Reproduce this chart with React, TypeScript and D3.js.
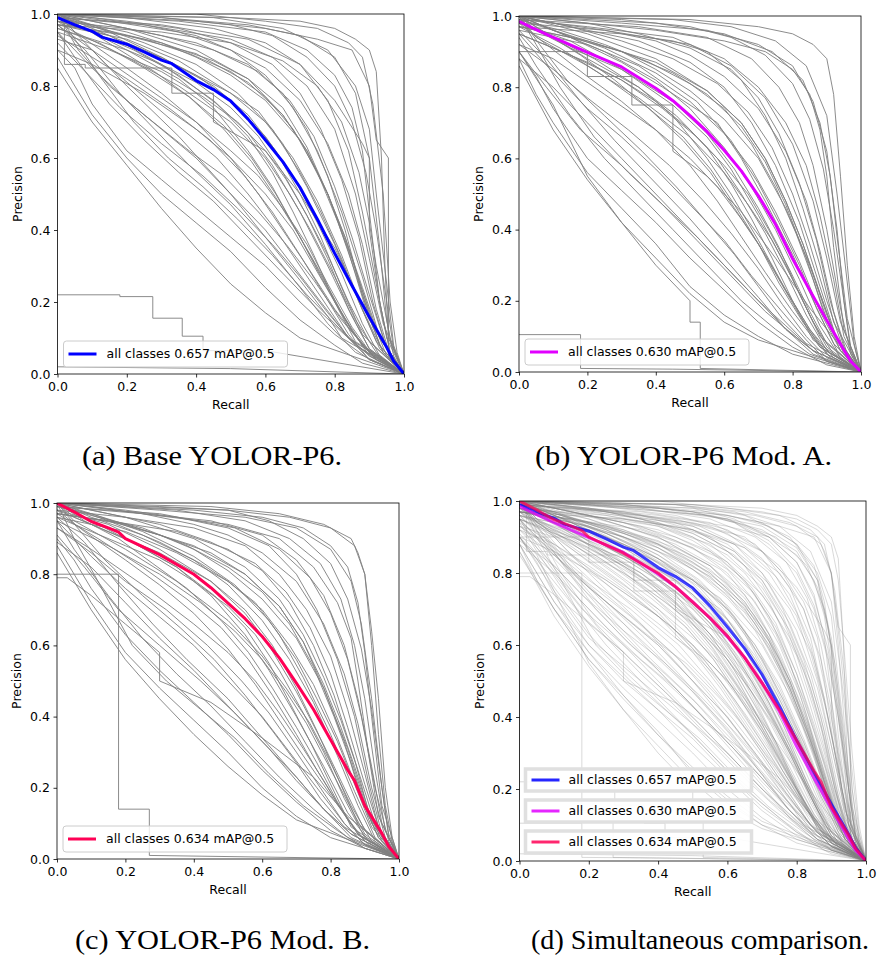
import React, { useEffect, useRef } from "react";
import * as d3 from "d3";

// each class curve: flat list of recall, precision pairs
const classesA: number[][] = [
  [0, 1, 0.4, 1, 0.6, 0.98, 0.75, 0.96, 0.84, 0.92, 0.88, 0.88, 0.91, 0.75, 0.94, 0.5, 0.96, 0.2, 0.98, 0.06, 1, 0],
  [0, 1, 0.3, 0.99, 0.55, 0.97, 0.7, 0.94, 0.8, 0.88, 0.86, 0.78, 0.9, 0.6, 0.93, 0.35, 0.95, 0.15, 0.97, 0.05, 1, 0],
  [0, 1, 0.2, 0.99, 0.45, 0.96, 0.6, 0.92, 0.7, 0.86, 0.78, 0.76, 0.84, 0.62, 0.88, 0.45, 0.92, 0.25, 0.95, 0.1, 1, 0],
  [0, 0.99, 0.25, 0.97, 0.5, 0.93, 0.62, 0.88, 0.72, 0.8, 0.8, 0.68, 0.86, 0.5, 0.9, 0.32, 0.94, 0.14, 1, 0],
  [0, 1, 0.35, 0.98, 0.6, 0.95, 0.72, 0.9, 0.8, 0.83, 0.85, 0.74, 0.88, 0.62, 0.9, 0.45, 0.93, 0.2, 0.96, 0.06, 1, 0],
  [0, 1, 0.5, 0.99, 0.7, 0.98, 0.8, 0.96, 0.86, 0.93, 0.9, 0.9, 0.92, 0.84, 0.935, 0.6, 0.945, 0.3, 0.955, 0.1, 1, 0],
  [0, 1, 0.4, 0.98, 0.6, 0.96, 0.75, 0.93, 0.85, 0.9, 0.9, 0.8, 0.92, 0.65, 0.955, 0.6, 0.955, 0.05, 1, 0],
  [0, 0.98, 0.2, 0.96, 0.4, 0.92, 0.55, 0.86, 0.65, 0.78, 0.72, 0.68, 0.78, 0.55, 0.83, 0.4, 0.88, 0.22, 0.93, 0.08, 1, 0],
  [0, 1, 0.15, 0.98, 0.35, 0.95, 0.5, 0.9, 0.6, 0.83, 0.68, 0.74, 0.75, 0.62, 0.82, 0.45, 0.88, 0.27, 0.93, 0.1, 1, 0],
  [0, 0.97, 0.3, 0.95, 0.5, 0.92, 0.65, 0.87, 0.75, 0.8, 0.82, 0.7, 0.87, 0.56, 0.9, 0.42, 0.92, 0.3, 0.96, 0.1, 1, 0],
  [0, 1, 0.45, 0.99, 0.65, 0.96, 0.78, 0.9, 0.86, 0.8, 0.9, 0.68, 0.92, 0.5, 0.95, 0.25, 0.97, 0.08, 1, 0],
  [0, 0.99, 0.3, 0.97, 0.55, 0.93, 0.7, 0.86, 0.8, 0.76, 0.88, 0.64, 0.9, 0.6, 0.9, 0.4, 0.93, 0.2, 0.96, 0.06, 1, 0],
  [0, 1, 0.1, 0.96, 0.25, 0.9, 0.4, 0.83, 0.5, 0.76, 0.6, 0.66, 0.68, 0.55, 0.75, 0.42, 0.82, 0.28, 0.88, 0.14, 0.93, 0.05, 1, 0],
  [0, 0.98, 0.15, 0.94, 0.3, 0.86, 0.45, 0.76, 0.55, 0.67, 0.62, 0.58, 0.7, 0.45, 0.78, 0.3, 0.85, 0.16, 0.9, 0.07, 1, 0],
  [0, 1, 0.1, 0.95, 0.2, 0.9, 0.35, 0.82, 0.45, 0.74, 0.55, 0.62, 0.62, 0.52, 0.7, 0.38, 0.78, 0.24, 0.85, 0.12, 0.92, 0.04, 1, 0],
  [0, 0.97, 0.2, 0.93, 0.35, 0.87, 0.5, 0.78, 0.6, 0.7, 0.68, 0.6, 0.75, 0.48, 0.82, 0.33, 0.88, 0.18, 0.94, 0.06, 1, 0],
  [0, 1, 0.05, 0.95, 0.2, 0.88, 0.35, 0.8, 0.5, 0.7, 0.6, 0.6, 0.67, 0.5, 0.73, 0.4, 0.8, 0.27, 0.86, 0.15, 0.92, 0.06, 1, 0],
  [0, 0.95, 0.15, 0.9, 0.3, 0.84, 0.42, 0.77, 0.52, 0.7, 0.6, 0.62, 0.66, 0.54, 0.72, 0.44, 0.78, 0.33, 0.84, 0.2, 0.9, 0.09, 1, 0],
  [0, 1, 0.1, 0.97, 0.25, 0.92, 0.4, 0.86, 0.52, 0.78, 0.62, 0.68, 0.7, 0.56, 0.76, 0.45, 0.82, 0.32, 0.87, 0.2, 0.92, 0.09, 1, 0],
  [0, 0.96, 0.12, 0.92, 0.25, 0.85, 0.38, 0.77, 0.48, 0.69, 0.56, 0.6, 0.63, 0.5, 0.7, 0.38, 0.76, 0.27, 0.83, 0.15, 0.9, 0.05, 1, 0],
  [0, 1, 0.2, 0.96, 0.4, 0.9, 0.55, 0.82, 0.65, 0.72, 0.72, 0.62, 0.78, 0.5, 0.83, 0.38, 0.88, 0.24, 0.93, 0.1, 1, 0],
  [0, 0.93, 0.1, 0.9, 0.25, 0.8, 0.4, 0.7, 0.5, 0.62, 0.58, 0.55, 0.65, 0.46, 0.72, 0.36, 0.78, 0.25, 0.85, 0.13, 0.91, 0.05, 1, 0],
  [0, 1, 0.15, 0.95, 0.3, 0.88, 0.42, 0.82, 0.5, 0.78, 0.58, 0.73, 0.65, 0.64, 0.72, 0.52, 0.8, 0.36, 0.87, 0.2, 0.93, 0.07, 1, 0],
  [0, 0.98, 0.08, 0.93, 0.2, 0.85, 0.3, 0.78, 0.4, 0.7, 0.5, 0.6, 0.58, 0.5, 0.65, 0.4, 0.72, 0.3, 0.8, 0.18, 0.88, 0.08, 1, 0],
  [0, 0.95, 0.05, 0.88, 0.15, 0.75, 0.25, 0.65, 0.35, 0.56, 0.45, 0.48, 0.55, 0.38, 0.65, 0.28, 0.75, 0.18, 0.85, 0.09, 0.92, 0.04, 1, 0],
  [0, 0.9, 0.05, 0.85, 0.1, 0.75, 0.2, 0.62, 0.3, 0.54, 0.4, 0.46, 0.5, 0.38, 0.6, 0.3, 0.7, 0.2, 0.8, 0.11, 0.9, 0.04, 1, 0],
  [0, 0.97, 0.08, 0.9, 0.18, 0.78, 0.28, 0.68, 0.38, 0.58, 0.5, 0.47, 0.6, 0.36, 0.7, 0.24, 0.78, 0.14, 0.86, 0.06, 1, 0],
  [0, 1, 0.05, 0.93, 0.12, 0.83, 0.22, 0.7, 0.32, 0.6, 0.42, 0.52, 0.52, 0.43, 0.62, 0.33, 0.72, 0.22, 0.82, 0.12, 0.9, 0.05, 1, 0],
  [0, 0.88, 0.05, 0.8, 0.1, 0.72, 0.2, 0.6, 0.3, 0.5, 0.4, 0.42, 0.5, 0.34, 0.6, 0.24, 0.7, 0.15, 0.8, 0.08, 0.88, 0.03, 1, 0],
  [0, 0.95, 0.1, 0.85, 0.2, 0.76, 0.3, 0.68, 0.4, 0.6, 0.5, 0.5, 0.6, 0.4, 0.68, 0.3, 0.76, 0.2, 0.84, 0.1, 0.9, 0.04, 1, 0],
  [0, 1, 0.06, 0.9, 0.15, 0.8, 0.25, 0.72, 0.38, 0.62, 0.48, 0.55, 0.58, 0.45, 0.66, 0.36, 0.74, 0.26, 0.82, 0.15, 0.9, 0.06, 1, 0],
  [0, 0.22, 0.18, 0.22, 0.18, 0.215, 0.275, 0.215, 0.275, 0.155, 0.36, 0.155, 0.36, 0.105, 0.42, 0.105, 0.42, 0.065, 0.6, 0.065, 1, 0],
  [0, 1, 0.02, 1, 0.02, 0.86, 0.08, 0.86, 0.08, 0.85, 0.33, 0.85, 0.33, 0.78, 0.45, 0.78, 0.45, 0.7, 0.6, 0.62, 0.7, 0.5, 0.8, 0.35, 0.9, 0.15, 1, 0],
  [0, 0.02, 0.5, 0.015, 1, 0],
  [0, 0.99, 0.1, 0.97, 0.2, 0.95, 0.3, 0.92, 0.4, 0.88, 0.5, 0.83, 0.6, 0.76, 0.7, 0.65, 0.78, 0.5, 0.85, 0.32, 0.9, 0.17, 0.95, 0.05, 1, 0],
  [0, 1, 0.1, 0.99, 0.25, 0.97, 0.4, 0.94, 0.5, 0.9, 0.6, 0.85, 0.7, 0.76, 0.78, 0.64, 0.84, 0.5, 0.88, 0.36, 0.92, 0.18, 0.96, 0.05, 1, 0],
  [0, 0.96, 0.1, 0.93, 0.2, 0.9, 0.3, 0.86, 0.4, 0.81, 0.5, 0.74, 0.58, 0.66, 0.65, 0.56, 0.72, 0.44, 0.78, 0.32, 0.84, 0.18, 0.9, 0.07, 1, 0],
  [0, 1, 0.05, 0.97, 0.15, 0.93, 0.3, 0.88, 0.45, 0.8, 0.55, 0.72, 0.63, 0.62, 0.7, 0.5, 0.76, 0.38, 0.82, 0.24, 0.88, 0.11, 1, 0],
  [0, 0.94, 0.1, 0.88, 0.2, 0.82, 0.32, 0.74, 0.44, 0.65, 0.54, 0.55, 0.62, 0.45, 0.7, 0.33, 0.77, 0.22, 0.84, 0.11, 0.9, 0.04, 1, 0],
  [0, 1, 0.2, 0.98, 0.35, 0.96, 0.5, 0.92, 0.62, 0.86, 0.7, 0.78, 0.76, 0.68, 0.82, 0.54, 0.87, 0.38, 0.91, 0.2, 0.95, 0.07, 1, 0],
  [0, 0.97, 0.15, 0.95, 0.3, 0.92, 0.45, 0.87, 0.55, 0.82, 0.65, 0.74, 0.72, 0.63, 0.78, 0.5, 0.84, 0.34, 0.89, 0.18, 0.94, 0.06, 1, 0],
  [0, 1, 0.08, 0.96, 0.18, 0.9, 0.28, 0.84, 0.38, 0.77, 0.48, 0.68, 0.56, 0.59, 0.63, 0.49, 0.7, 0.38, 0.76, 0.28, 0.82, 0.17, 0.88, 0.08, 1, 0],
  [0, 0.92, 0.08, 0.84, 0.18, 0.74, 0.3, 0.64, 0.42, 0.55, 0.52, 0.46, 0.62, 0.36, 0.7, 0.27, 0.78, 0.17, 0.86, 0.08, 1, 0],
  [0, 1, 0.3, 0.99, 0.5, 0.97, 0.62, 0.94, 0.72, 0.88, 0.8, 0.8, 0.85, 0.7, 0.89, 0.56, 0.92, 0.4, 0.95, 0.2, 0.97, 0.07, 1, 0],
  [0, 0.98, 0.1, 0.95, 0.22, 0.9, 0.35, 0.83, 0.46, 0.75, 0.55, 0.66, 0.62, 0.56, 0.68, 0.45, 0.74, 0.33, 0.8, 0.2, 0.86, 0.09, 1, 0],
  [0, 0.99, 0.12, 0.96, 0.25, 0.93, 0.38, 0.89, 0.5, 0.84, 0.6, 0.77, 0.68, 0.68, 0.75, 0.56, 0.81, 0.42, 0.86, 0.28, 0.91, 0.13, 1, 0],
  [0, 1, 0.06, 0.94, 0.14, 0.86, 0.25, 0.77, 0.36, 0.68, 0.46, 0.6, 0.55, 0.5, 0.63, 0.4, 0.7, 0.3, 0.77, 0.2, 0.84, 0.1, 1, 0],
  [0, 0.97, 0.2, 0.94, 0.4, 0.89, 0.55, 0.81, 0.65, 0.72, 0.72, 0.62, 0.78, 0.5, 0.83, 0.38, 0.87, 0.26, 0.92, 0.12, 1, 0],
  [0, 0.9, 0.1, 0.86, 0.25, 0.78, 0.4, 0.68, 0.5, 0.6, 0.6, 0.5, 0.68, 0.4, 0.74, 0.3, 0.8, 0.2, 0.85, 0.12, 0.9, 0.06, 1, 0],
  [0, 1, 0.15, 0.97, 0.3, 0.94, 0.45, 0.9, 0.58, 0.84, 0.67, 0.76, 0.74, 0.66, 0.8, 0.52, 0.85, 0.38, 0.9, 0.22, 0.95, 0.07, 1, 0],
  [0, 0.85, 0.1, 0.7, 0.2, 0.58, 0.3, 0.46, 0.4, 0.35, 0.5, 0.25, 0.6, 0.17, 0.7, 0.1, 1, 0],
  [0, 0.97, 0.1, 0.9, 0.2, 0.8, 0.35, 0.66, 0.5, 0.5, 0.6, 0.38, 0.7, 0.26, 0.78, 0.16, 0.82, 0.1, 1, 0],
];

const classesB: number[][] = [
  [0, 1, 0.5, 0.99, 0.7, 0.97, 0.8, 0.95, 0.86, 0.92, 0.9, 0.88, 0.92, 0.78, 0.94, 0.55, 0.96, 0.3, 0.98, 0.1, 1, 0],
  [0, 1, 0.3, 0.98, 0.55, 0.96, 0.7, 0.92, 0.8, 0.86, 0.86, 0.76, 0.9, 0.62, 0.93, 0.4, 0.95, 0.2, 0.97, 0.06, 1, 0],
  [0, 0.99, 0.2, 0.97, 0.45, 0.94, 0.6, 0.88, 0.7, 0.8, 0.78, 0.7, 0.84, 0.58, 0.88, 0.44, 0.92, 0.26, 0.95, 0.1, 1, 0],
  [0, 1, 0.4, 0.98, 0.6, 0.95, 0.74, 0.9, 0.83, 0.82, 0.88, 0.7, 0.91, 0.55, 0.93, 0.38, 0.96, 0.15, 1, 0],
  [0, 0.98, 0.25, 0.96, 0.5, 0.92, 0.62, 0.86, 0.72, 0.77, 0.8, 0.64, 0.86, 0.48, 0.9, 0.32, 0.94, 0.14, 1, 0],
  [0, 1, 0.2, 0.98, 0.4, 0.96, 0.6, 0.93, 0.72, 0.9, 0.8, 0.85, 0.85, 0.78, 0.88, 0.68, 0.9, 0.55, 0.92, 0.35, 0.95, 0.12, 1, 0],
  [0, 0.97, 0.3, 0.95, 0.45, 0.93, 0.55, 0.9, 0.65, 0.82, 0.72, 0.72, 0.78, 0.6, 0.83, 0.46, 0.88, 0.3, 0.92, 0.14, 1, 0],
  [0, 1, 0.15, 0.97, 0.35, 0.93, 0.5, 0.87, 0.6, 0.8, 0.68, 0.7, 0.75, 0.58, 0.82, 0.42, 0.88, 0.24, 0.93, 0.09, 1, 0],
  [0, 1, 0.45, 0.99, 0.62, 0.97, 0.75, 0.93, 0.84, 0.86, 0.9, 0.72, 0.93, 0.5, 0.96, 0.25, 0.98, 0.08, 1, 0],
  [0, 0.99, 0.35, 0.97, 0.55, 0.94, 0.68, 0.88, 0.76, 0.8, 0.82, 0.7, 0.86, 0.58, 0.9, 0.4, 0.94, 0.18, 0.97, 0.05, 1, 0],
  [0, 1, 0.1, 0.96, 0.25, 0.9, 0.4, 0.82, 0.5, 0.74, 0.6, 0.63, 0.68, 0.52, 0.75, 0.4, 0.82, 0.26, 0.88, 0.13, 0.94, 0.04, 1, 0],
  [0, 0.98, 0.15, 0.93, 0.3, 0.85, 0.45, 0.75, 0.55, 0.66, 0.62, 0.57, 0.7, 0.44, 0.78, 0.3, 0.85, 0.16, 0.9, 0.07, 1, 0],
  [0, 1, 0.1, 0.94, 0.2, 0.88, 0.35, 0.8, 0.45, 0.72, 0.55, 0.6, 0.62, 0.5, 0.7, 0.37, 0.78, 0.23, 0.85, 0.12, 0.92, 0.04, 1, 0],
  [0, 0.96, 0.2, 0.92, 0.35, 0.86, 0.5, 0.76, 0.6, 0.67, 0.68, 0.57, 0.75, 0.45, 0.82, 0.31, 0.88, 0.17, 0.94, 0.06, 1, 0],
  [0, 1, 0.05, 0.94, 0.2, 0.86, 0.35, 0.77, 0.5, 0.66, 0.6, 0.56, 0.67, 0.47, 0.74, 0.37, 0.8, 0.26, 0.86, 0.14, 0.92, 0.05, 1, 0],
  [0, 0.95, 0.15, 0.89, 0.3, 0.82, 0.42, 0.74, 0.52, 0.66, 0.6, 0.58, 0.67, 0.5, 0.73, 0.4, 0.79, 0.29, 0.85, 0.17, 0.9, 0.08, 1, 0],
  [0, 1, 0.1, 0.96, 0.25, 0.91, 0.4, 0.84, 0.52, 0.76, 0.62, 0.65, 0.7, 0.53, 0.76, 0.42, 0.82, 0.3, 0.87, 0.18, 0.92, 0.08, 1, 0],
  [0, 0.97, 0.12, 0.91, 0.25, 0.83, 0.38, 0.74, 0.48, 0.66, 0.56, 0.57, 0.63, 0.47, 0.7, 0.36, 0.76, 0.25, 0.83, 0.14, 0.9, 0.05, 1, 0],
  [0, 1, 0.2, 0.95, 0.4, 0.88, 0.55, 0.79, 0.65, 0.7, 0.72, 0.6, 0.78, 0.48, 0.83, 0.36, 0.88, 0.22, 0.93, 0.09, 1, 0],
  [0, 0.92, 0.1, 0.88, 0.25, 0.78, 0.4, 0.68, 0.5, 0.6, 0.58, 0.52, 0.65, 0.43, 0.72, 0.33, 0.78, 0.23, 0.85, 0.12, 0.91, 0.04, 1, 0],
  [0, 0.98, 0.08, 0.92, 0.2, 0.83, 0.3, 0.76, 0.4, 0.68, 0.5, 0.58, 0.58, 0.48, 0.65, 0.38, 0.72, 0.28, 0.8, 0.17, 0.88, 0.07, 1, 0],
  [0, 1, 0.15, 0.94, 0.3, 0.87, 0.42, 0.8, 0.5, 0.75, 0.58, 0.7, 0.65, 0.6, 0.72, 0.48, 0.8, 0.33, 0.87, 0.18, 0.93, 0.06, 1, 0],
  [0, 0.94, 0.05, 0.86, 0.15, 0.72, 0.25, 0.6, 0.35, 0.5, 0.45, 0.4, 0.55, 0.3, 0.65, 0.2, 0.75, 0.12, 0.85, 0.05, 1, 0],
  [0, 0.9, 0.05, 0.83, 0.1, 0.74, 0.2, 0.6, 0.3, 0.51, 0.4, 0.42, 0.5, 0.32, 0.6, 0.23, 0.7, 0.14, 0.8, 0.07, 0.9, 0.02, 1, 0],
  [0, 0.96, 0.08, 0.88, 0.18, 0.76, 0.28, 0.65, 0.38, 0.55, 0.5, 0.43, 0.6, 0.32, 0.7, 0.21, 0.78, 0.12, 0.86, 0.05, 1, 0],
  [0, 1, 0.05, 0.92, 0.12, 0.8, 0.22, 0.66, 0.32, 0.56, 0.42, 0.47, 0.52, 0.37, 0.62, 0.27, 0.72, 0.17, 0.82, 0.09, 0.9, 0.03, 1, 0],
  [0, 0.88, 0.05, 0.78, 0.1, 0.7, 0.2, 0.56, 0.3, 0.46, 0.4, 0.36, 0.5, 0.24, 0.6, 0.16, 0.7, 0.1, 0.8, 0.05, 1, 0],
  [0, 0.95, 0.1, 0.84, 0.2, 0.74, 0.3, 0.66, 0.4, 0.57, 0.5, 0.47, 0.6, 0.37, 0.68, 0.27, 0.76, 0.18, 0.84, 0.09, 0.9, 0.03, 1, 0],
  [0, 0.105, 0.18, 0.105, 0.18, 0.01, 0.45, 0.008, 1, 0],
  [0, 0.9, 0.2, 0.9, 0.2, 0.83, 0.33, 0.83, 0.33, 0.75, 0.45, 0.75, 0.45, 0.62, 0.55, 0.55, 0.65, 0.45, 0.75, 0.32, 0.85, 0.18, 1, 0],
  [0, 0.9, 0.1, 0.75, 0.2, 0.55, 0.3, 0.42, 0.4, 0.3, 0.5, 0.2, 0.5, 0.14, 0.53, 0.14, 0.53, 0.01, 1, 0],
  [0, 0.99, 0.1, 0.96, 0.2, 0.93, 0.3, 0.9, 0.4, 0.85, 0.5, 0.79, 0.6, 0.71, 0.7, 0.6, 0.78, 0.46, 0.85, 0.3, 0.9, 0.16, 0.95, 0.05, 1, 0],
  [0, 1, 0.1, 0.98, 0.25, 0.96, 0.4, 0.93, 0.5, 0.89, 0.6, 0.83, 0.7, 0.74, 0.78, 0.62, 0.84, 0.48, 0.88, 0.34, 0.92, 0.17, 0.96, 0.05, 1, 0],
  [0, 0.95, 0.1, 0.91, 0.2, 0.87, 0.3, 0.82, 0.4, 0.76, 0.5, 0.68, 0.58, 0.6, 0.65, 0.5, 0.72, 0.39, 0.78, 0.28, 0.84, 0.16, 0.9, 0.06, 1, 0],
  [0, 1, 0.05, 0.96, 0.15, 0.91, 0.3, 0.85, 0.45, 0.76, 0.55, 0.67, 0.63, 0.57, 0.7, 0.46, 0.76, 0.35, 0.82, 0.22, 0.88, 0.1, 1, 0],
  [0, 0.92, 0.1, 0.85, 0.2, 0.77, 0.32, 0.68, 0.44, 0.58, 0.54, 0.48, 0.62, 0.39, 0.7, 0.29, 0.77, 0.19, 0.84, 0.1, 0.9, 0.04, 1, 0],
  [0, 1, 0.2, 0.98, 0.35, 0.95, 0.5, 0.91, 0.62, 0.85, 0.7, 0.77, 0.76, 0.67, 0.82, 0.53, 0.87, 0.37, 0.91, 0.2, 0.95, 0.07, 1, 0],
  [0, 0.97, 0.15, 0.94, 0.3, 0.9, 0.45, 0.84, 0.55, 0.78, 0.65, 0.69, 0.72, 0.59, 0.78, 0.47, 0.84, 0.32, 0.89, 0.17, 0.94, 0.06, 1, 0],
  [0, 1, 0.08, 0.95, 0.18, 0.89, 0.28, 0.82, 0.38, 0.74, 0.48, 0.65, 0.56, 0.56, 0.63, 0.46, 0.7, 0.36, 0.76, 0.26, 0.82, 0.16, 0.88, 0.07, 1, 0],
  [0, 0.9, 0.08, 0.8, 0.18, 0.68, 0.3, 0.58, 0.42, 0.47, 0.52, 0.38, 0.62, 0.28, 0.7, 0.2, 0.78, 0.13, 0.86, 0.06, 1, 0],
  [0, 1, 0.3, 0.99, 0.5, 0.97, 0.62, 0.94, 0.72, 0.89, 0.8, 0.81, 0.85, 0.71, 0.89, 0.57, 0.92, 0.4, 0.95, 0.2, 0.97, 0.07, 1, 0],
  [0, 0.98, 0.1, 0.94, 0.22, 0.88, 0.35, 0.8, 0.46, 0.72, 0.55, 0.63, 0.62, 0.53, 0.68, 0.43, 0.74, 0.32, 0.8, 0.2, 0.86, 0.09, 1, 0],
  [0, 0.99, 0.12, 0.96, 0.25, 0.92, 0.38, 0.87, 0.5, 0.81, 0.6, 0.74, 0.68, 0.64, 0.75, 0.52, 0.81, 0.39, 0.86, 0.26, 0.91, 0.12, 1, 0],
  [0, 1, 0.06, 0.92, 0.14, 0.82, 0.25, 0.72, 0.36, 0.62, 0.46, 0.52, 0.55, 0.42, 0.63, 0.33, 0.7, 0.24, 0.77, 0.15, 0.84, 0.08, 1, 0],
  [0, 0.97, 0.2, 0.93, 0.4, 0.87, 0.55, 0.79, 0.65, 0.7, 0.72, 0.6, 0.78, 0.48, 0.83, 0.36, 0.87, 0.25, 0.92, 0.11, 1, 0],
  [0, 0.88, 0.1, 0.8, 0.2, 0.7, 0.3, 0.6, 0.4, 0.5, 0.5, 0.4, 0.6, 0.3, 0.7, 0.2, 0.78, 0.12, 0.86, 0.06, 1, 0],
  [0, 1, 0.15, 0.97, 0.3, 0.93, 0.45, 0.88, 0.58, 0.81, 0.67, 0.73, 0.74, 0.63, 0.8, 0.5, 0.85, 0.36, 0.9, 0.2, 0.95, 0.06, 1, 0],
  [0, 0.86, 0.1, 0.68, 0.2, 0.54, 0.3, 0.42, 0.4, 0.32, 0.5, 0.22, 0.6, 0.14, 0.7, 0.09, 1, 0],
];

const classesC: number[][] = [
  [0, 1, 0.45, 0.99, 0.65, 0.97, 0.78, 0.94, 0.86, 0.9, 0.88, 0.86, 0.9, 0.8, 0.92, 0.6, 0.94, 0.35, 0.96, 0.15, 0.98, 0.05, 1, 0],
  [0, 1, 0.3, 0.98, 0.55, 0.96, 0.7, 0.93, 0.8, 0.87, 0.86, 0.78, 0.89, 0.66, 0.92, 0.45, 0.95, 0.2, 0.97, 0.06, 1, 0],
  [0, 0.99, 0.25, 0.97, 0.45, 0.95, 0.6, 0.91, 0.7, 0.84, 0.78, 0.74, 0.84, 0.6, 0.88, 0.45, 0.92, 0.26, 0.95, 0.1, 1, 0],
  [0, 1, 0.35, 0.98, 0.55, 0.95, 0.68, 0.9, 0.77, 0.83, 0.83, 0.73, 0.87, 0.6, 0.9, 0.45, 0.93, 0.25, 0.96, 0.08, 1, 0],
  [0, 0.98, 0.2, 0.96, 0.4, 0.93, 0.55, 0.88, 0.65, 0.8, 0.73, 0.7, 0.8, 0.57, 0.85, 0.42, 0.9, 0.24, 0.94, 0.09, 1, 0],
  [0, 1, 0.5, 0.98, 0.68, 0.96, 0.8, 0.93, 0.87, 0.88, 0.9, 0.8, 0.92, 0.64, 0.94, 0.45, 0.96, 0.2, 0.98, 0.06, 1, 0],
  [0, 1, 0.25, 0.97, 0.5, 0.94, 0.65, 0.9, 0.75, 0.82, 0.82, 0.72, 0.86, 0.62, 0.88, 0.5, 0.91, 0.3, 0.94, 0.12, 1, 0],
  [0, 0.97, 0.15, 0.95, 0.35, 0.92, 0.5, 0.87, 0.6, 0.81, 0.68, 0.72, 0.75, 0.6, 0.81, 0.46, 0.87, 0.28, 0.92, 0.1, 1, 0],
  [0, 1, 0.4, 0.98, 0.6, 0.96, 0.72, 0.93, 0.8, 0.88, 0.85, 0.82, 0.88, 0.72, 0.9, 0.58, 0.92, 0.4, 0.95, 0.15, 1, 0],
  [0, 0.99, 0.3, 0.97, 0.52, 0.93, 0.65, 0.87, 0.74, 0.79, 0.8, 0.69, 0.85, 0.56, 0.89, 0.4, 0.93, 0.2, 0.97, 0.05, 1, 0],
  [0, 1, 0.1, 0.96, 0.25, 0.91, 0.4, 0.84, 0.5, 0.77, 0.6, 0.67, 0.68, 0.56, 0.75, 0.44, 0.82, 0.29, 0.88, 0.15, 0.93, 0.05, 1, 0],
  [0, 0.98, 0.15, 0.94, 0.3, 0.87, 0.45, 0.78, 0.55, 0.69, 0.62, 0.6, 0.7, 0.47, 0.78, 0.32, 0.85, 0.18, 0.9, 0.08, 1, 0],
  [0, 1, 0.1, 0.95, 0.2, 0.9, 0.35, 0.82, 0.45, 0.74, 0.55, 0.63, 0.62, 0.53, 0.7, 0.4, 0.78, 0.26, 0.85, 0.13, 0.92, 0.04, 1, 0],
  [0, 0.96, 0.2, 0.92, 0.35, 0.86, 0.5, 0.78, 0.6, 0.7, 0.68, 0.6, 0.75, 0.49, 0.82, 0.34, 0.88, 0.19, 0.94, 0.06, 1, 0],
  [0, 1, 0.05, 0.95, 0.2, 0.87, 0.35, 0.78, 0.5, 0.67, 0.6, 0.57, 0.67, 0.48, 0.74, 0.38, 0.8, 0.27, 0.86, 0.15, 0.92, 0.05, 1, 0],
  [0, 0.95, 0.15, 0.88, 0.3, 0.8, 0.42, 0.72, 0.52, 0.64, 0.6, 0.56, 0.67, 0.47, 0.73, 0.38, 0.79, 0.27, 0.85, 0.16, 0.9, 0.07, 1, 0],
  [0, 1, 0.1, 0.97, 0.25, 0.92, 0.4, 0.85, 0.52, 0.77, 0.62, 0.67, 0.7, 0.56, 0.76, 0.45, 0.82, 0.33, 0.87, 0.21, 0.92, 0.09, 1, 0],
  [0, 0.97, 0.12, 0.9, 0.25, 0.82, 0.38, 0.73, 0.48, 0.65, 0.56, 0.56, 0.63, 0.46, 0.7, 0.35, 0.76, 0.25, 0.83, 0.14, 0.9, 0.05, 1, 0],
  [0, 1, 0.2, 0.96, 0.4, 0.9, 0.55, 0.82, 0.65, 0.73, 0.72, 0.63, 0.78, 0.51, 0.83, 0.39, 0.88, 0.25, 0.93, 0.1, 1, 0],
  [0, 0.93, 0.1, 0.87, 0.25, 0.77, 0.4, 0.66, 0.5, 0.58, 0.58, 0.5, 0.65, 0.41, 0.72, 0.31, 0.78, 0.22, 0.85, 0.11, 0.91, 0.04, 1, 0],
  [0, 0.98, 0.08, 0.92, 0.2, 0.84, 0.3, 0.77, 0.4, 0.69, 0.5, 0.59, 0.58, 0.49, 0.65, 0.39, 0.72, 0.29, 0.8, 0.18, 0.88, 0.07, 1, 0],
  [0, 1, 0.15, 0.95, 0.3, 0.89, 0.42, 0.83, 0.5, 0.78, 0.58, 0.72, 0.65, 0.63, 0.72, 0.51, 0.8, 0.35, 0.87, 0.19, 0.93, 0.06, 1, 0],
  [0, 0.95, 0.05, 0.87, 0.15, 0.74, 0.25, 0.62, 0.35, 0.52, 0.45, 0.43, 0.55, 0.33, 0.65, 0.23, 0.75, 0.14, 0.85, 0.06, 1, 0],
  [0, 0.9, 0.05, 0.84, 0.1, 0.76, 0.2, 0.63, 0.3, 0.53, 0.4, 0.44, 0.5, 0.35, 0.6, 0.25, 0.7, 0.16, 0.8, 0.08, 0.9, 0.03, 1, 0],
  [0, 0.96, 0.08, 0.89, 0.18, 0.77, 0.28, 0.66, 0.38, 0.56, 0.5, 0.45, 0.6, 0.34, 0.7, 0.23, 0.78, 0.14, 0.86, 0.06, 1, 0],
  [0, 1, 0.05, 0.9, 0.12, 0.78, 0.22, 0.6, 0.32, 0.5, 0.42, 0.42, 0.52, 0.34, 0.62, 0.24, 0.72, 0.15, 0.82, 0.08, 0.9, 0.03, 1, 0],
  [0, 0.88, 0.05, 0.8, 0.1, 0.72, 0.2, 0.58, 0.3, 0.48, 0.4, 0.39, 0.5, 0.3, 0.6, 0.2, 0.7, 0.12, 0.8, 0.06, 1, 0],
  [0, 0.95, 0.1, 0.85, 0.2, 0.76, 0.3, 0.68, 0.4, 0.6, 0.5, 0.5, 0.6, 0.4, 0.68, 0.3, 0.76, 0.2, 0.84, 0.1, 0.9, 0.04, 1, 0],
  [0, 0.8, 0.18, 0.8, 0.18, 0.14, 0.27, 0.14, 0.27, 0.01, 1, 0],
  [0, 0.79, 0.03, 0.79, 0.1, 0.74, 0.2, 0.66, 0.3, 0.58, 0.3, 0.5, 0.45, 0.44, 0.6, 0.34, 0.75, 0.23, 0.85, 0.12, 1, 0],
  [0, 0.99, 0.1, 0.97, 0.2, 0.94, 0.3, 0.91, 0.4, 0.87, 0.5, 0.81, 0.6, 0.73, 0.7, 0.62, 0.78, 0.48, 0.85, 0.31, 0.9, 0.16, 0.95, 0.05, 1, 0],
  [0, 1, 0.1, 0.99, 0.25, 0.97, 0.4, 0.94, 0.5, 0.91, 0.6, 0.86, 0.7, 0.78, 0.78, 0.66, 0.84, 0.52, 0.88, 0.38, 0.92, 0.2, 0.96, 0.06, 1, 0],
  [0, 0.96, 0.1, 0.92, 0.2, 0.88, 0.3, 0.84, 0.4, 0.78, 0.5, 0.71, 0.58, 0.63, 0.65, 0.53, 0.72, 0.41, 0.78, 0.3, 0.84, 0.17, 0.9, 0.06, 1, 0],
  [0, 1, 0.05, 0.96, 0.15, 0.92, 0.3, 0.86, 0.45, 0.78, 0.55, 0.7, 0.63, 0.6, 0.7, 0.48, 0.76, 0.36, 0.82, 0.23, 0.88, 0.1, 1, 0],
  [0, 0.93, 0.1, 0.86, 0.2, 0.78, 0.32, 0.7, 0.44, 0.6, 0.54, 0.5, 0.62, 0.41, 0.7, 0.3, 0.77, 0.2, 0.84, 0.1, 0.9, 0.04, 1, 0],
  [0, 1, 0.2, 0.98, 0.35, 0.96, 0.5, 0.93, 0.62, 0.88, 0.7, 0.8, 0.76, 0.7, 0.82, 0.56, 0.87, 0.4, 0.91, 0.22, 0.95, 0.07, 1, 0],
  [0, 0.97, 0.15, 0.95, 0.3, 0.91, 0.45, 0.86, 0.55, 0.8, 0.65, 0.71, 0.72, 0.61, 0.78, 0.48, 0.84, 0.33, 0.89, 0.17, 0.94, 0.06, 1, 0],
  [0, 1, 0.08, 0.95, 0.18, 0.9, 0.28, 0.83, 0.38, 0.76, 0.48, 0.67, 0.56, 0.58, 0.63, 0.48, 0.7, 0.37, 0.76, 0.27, 0.82, 0.16, 0.88, 0.07, 1, 0],
  [0, 0.91, 0.08, 0.82, 0.18, 0.7, 0.3, 0.6, 0.42, 0.5, 0.52, 0.41, 0.62, 0.31, 0.7, 0.22, 0.78, 0.14, 0.86, 0.07, 1, 0],
  [0, 1, 0.3, 0.99, 0.5, 0.98, 0.62, 0.95, 0.72, 0.9, 0.8, 0.83, 0.85, 0.73, 0.89, 0.59, 0.92, 0.42, 0.95, 0.2, 0.97, 0.07, 1, 0],
  [0, 0.98, 0.1, 0.94, 0.22, 0.89, 0.35, 0.82, 0.46, 0.74, 0.55, 0.65, 0.62, 0.55, 0.68, 0.44, 0.74, 0.33, 0.8, 0.21, 0.86, 0.09, 1, 0],
  [0, 0.99, 0.12, 0.96, 0.25, 0.93, 0.38, 0.88, 0.5, 0.82, 0.6, 0.75, 0.68, 0.66, 0.75, 0.54, 0.81, 0.4, 0.86, 0.27, 0.91, 0.12, 1, 0],
  [0, 1, 0.06, 0.93, 0.14, 0.84, 0.25, 0.74, 0.36, 0.65, 0.46, 0.56, 0.55, 0.46, 0.63, 0.36, 0.7, 0.27, 0.77, 0.17, 0.84, 0.09, 1, 0],
  [0, 0.97, 0.2, 0.94, 0.4, 0.88, 0.55, 0.8, 0.65, 0.71, 0.72, 0.61, 0.78, 0.49, 0.83, 0.37, 0.87, 0.26, 0.92, 0.11, 1, 0],
  [0, 0.89, 0.1, 0.82, 0.2, 0.72, 0.3, 0.62, 0.4, 0.53, 0.5, 0.43, 0.6, 0.33, 0.7, 0.23, 0.78, 0.14, 0.86, 0.07, 1, 0],
  [0, 1, 0.15, 0.97, 0.3, 0.94, 0.45, 0.89, 0.58, 0.83, 0.67, 0.75, 0.74, 0.65, 0.8, 0.52, 0.85, 0.37, 0.9, 0.21, 0.95, 0.06, 1, 0],
  [0, 0.86, 0.1, 0.7, 0.2, 0.56, 0.3, 0.45, 0.4, 0.35, 0.5, 0.26, 0.6, 0.18, 0.7, 0.11, 1, 0],
];

// mean curves (all classes)
const recallA = [0, 0.05, 0.1, 0.13, 0.2, 0.25, 0.3, 0.33, 0.4, 0.45, 0.5, 0.55, 0.6, 0.65, 0.7, 0.75, 0.8, 0.85, 0.9, 0.95, 0.97, 1];
const precisionA = [0.99, 0.97, 0.952, 0.935, 0.916, 0.895, 0.872, 0.862, 0.815, 0.79, 0.758, 0.708, 0.65, 0.59, 0.518, 0.43, 0.335, 0.245, 0.158, 0.074, 0.036, 0];
const recallB = [0, 0.05, 0.1, 0.2, 0.3, 0.4, 0.45, 0.5, 0.55, 0.6, 0.65, 0.7, 0.75, 0.8, 0.85, 0.9, 0.95, 0.97, 1];
const precisionB = [0.985, 0.962, 0.94, 0.898, 0.857, 0.797, 0.762, 0.72, 0.675, 0.623, 0.565, 0.495, 0.415, 0.318, 0.23, 0.145, 0.062, 0.03, 0];
const recallC = [0, 0.05, 0.1, 0.15, 0.18, 0.2, 0.3, 0.4, 0.45, 0.5, 0.55, 0.6, 0.65, 0.7, 0.75, 0.8, 0.85, 0.87, 0.9, 0.95, 0.97, 1];
const precisionC = [1, 0.975, 0.948, 0.93, 0.918, 0.9, 0.855, 0.8, 0.762, 0.719, 0.675, 0.625, 0.565, 0.494, 0.42, 0.335, 0.25, 0.22, 0.15, 0.072, 0.035, 0];

const legendLabels = ["all classes 0.657 mAP@0.5", "all classes 0.630 mAP@0.5", "all classes 0.634 mAP@0.5"];
const captions = ["(a) Base YOLOR-P6.", "(b) YOLOR-P6 Mod. A.", "(c) YOLOR-P6 Mod. B.", "(d) Simultaneous comparison."];
const tickValues = [0, 0.2, 0.4, 0.6, 0.8, 1.0];

const colors = ["#0000ff", "#e100ff", "#ff0055"];
const font = "DejaVu Sans, sans-serif";

const pairs = (flat: number[]) => {
  const out: [number, number][] = [];
  for (let i = 0; i < flat.length; i += 2) out.push([flat[i], flat[i + 1]]);
  return out;
};

const zipRP = (r: number[], p: number[]) => r.map((v, i) => [v, p[i]] as [number, number]);

export default function App() {
  const ref = useRef<SVGSVGElement>(null);

  useEffect(() => {
    const svg = d3.select(ref.current);
    svg.selectAll("*").remove();

    const mains = [zipRP(recallA, precisionA), zipRP(recallB, precisionB), zipRP(recallC, precisionC)];

    const panels = [
      { id: "a", left: 57.5, right: 404, top: 14, bottom: 374, classes: classesA, mains: [0], light: false },
      { id: "b", left: 519, right: 861, top: 16, bottom: 372, classes: classesB, mains: [1], light: false },
      { id: "c", left: 57, right: 399, top: 503, bottom: 859, classes: classesC, mains: [2], light: false },
      { id: "d", left: 519.5, right: 866, top: 501, bottom: 861, classes: [...classesA, ...classesB, ...classesC], mains: [0, 1, 2], light: true },
    ];

    panels.forEach((pn) => {
      const x = d3.scaleLinear().domain([0, 1]).range([pn.left, pn.right]);
      const y = d3.scaleLinear().domain([0, 1]).range([pn.bottom, pn.top]);
      const line = d3.line<[number, number]>().x((d) => x(d[0])).y((d) => y(d[1]));
      const g = svg.append("g");

      g.append("clipPath").attr("id", "clip-" + pn.id)
        .append("rect")
        .attr("x", pn.left).attr("y", pn.top)
        .attr("width", pn.right - pn.left).attr("height", pn.bottom - pn.top);

      const plot = g.append("g").attr("clip-path", `url(#clip-${pn.id})`);

      plot.selectAll("path.cls")
        .data(pn.classes)
        .join("path")
        .attr("class", "cls")
        .attr("d", (c) => line(pairs(c)))
        .attr("fill", "none")
        .attr("stroke", "#808080")
        .attr("stroke-opacity", pn.light ? 0.3 : 0.9)
        .attr("stroke-width", 1);

      pn.mains.forEach((m) => {
        plot.append("path")
          .attr("d", line(mains[m]))
          .attr("fill", "none")
          .attr("stroke", colors[m])
          .attr("stroke-opacity", pn.light ? 0.75 : 1)
          .attr("stroke-width", 3)
          .attr("stroke-linejoin", "round");
      });

      // axes
      const xAxis = d3.axisBottom(x).tickValues(tickValues).tickFormat(d3.format(".1f")).tickSize(3.5).tickPadding(4.5);
      const yAxis = d3.axisLeft(y).tickValues(tickValues).tickFormat(d3.format(".1f")).tickSize(3.5).tickPadding(3.5);
      const gx = g.append("g").attr("transform", `translate(0,${pn.bottom})`).call(xAxis);
      const gy = g.append("g").attr("transform", `translate(${pn.left},0)`).call(yAxis);
      [gx, gy].forEach((ax) => {
        ax.select(".domain").remove();
        ax.selectAll("line").attr("stroke", "#000").attr("stroke-width", 0.8);
        ax.selectAll("text").attr("fill", "#000").style("font-family", font).style("font-size", "12.5px");
      });

      g.append("rect")
        .attr("x", pn.left).attr("y", pn.top)
        .attr("width", pn.right - pn.left).attr("height", pn.bottom - pn.top)
        .attr("fill", "none").attr("stroke", "#000").attr("stroke-width", 0.8);

      g.append("text")
        .attr("transform", `translate(${pn.left - 40},${(pn.top + pn.bottom) / 2}) rotate(-90)`)
        .attr("text-anchor", "middle").attr("dy", "0.35em")
        .style("font-family", font).style("font-size", "12.5px")
        .text("Precision");

      g.append("text")
        .attr("x", (pn.left + pn.right) / 2).attr("y", pn.bottom + 31)
        .attr("text-anchor", "middle").attr("dy", "0.35em")
        .style("font-family", font).style("font-size", "12.5px")
        .text("Recall");

      // legends
      if (!pn.light) {
        const m = pn.mains[0];
        const lg = g.append("g");
        lg.append("rect")
          .attr("x", pn.left + 6).attr("y", pn.bottom - 33)
          .attr("width", 224).attr("height", 26).attr("rx", 3)
          .attr("fill", "#fff").attr("fill-opacity", 0.8)
          .attr("stroke", "#cccccc").attr("stroke-width", 1);
        lg.append("line")
          .attr("x1", pn.left + 11).attr("x2", pn.left + 39)
          .attr("y1", pn.bottom - 20).attr("y2", pn.bottom - 20)
          .attr("stroke", colors[m]).attr("stroke-width", 3);
        lg.append("text")
          .attr("x", pn.left + 49).attr("y", pn.bottom - 20).attr("dy", "0.35em")
          .style("font-family", font).style("font-size", "12.5px")
          .text(legendLabels[m]);
      } else {
        const centers = [81, 50, 19];
        pn.mains.forEach((m, i) => {
          const cy = pn.bottom - centers[i];
          const lg = g.append("g");
          lg.append("rect")
            .attr("x", pn.left + 6).attr("y", cy - 11)
            .attr("width", 226).attr("height", 22)
            .attr("fill", "#fff").attr("fill-opacity", 0.9)
            .attr("stroke", "#e0e0e0").attr("stroke-width", 3.5);
          lg.append("line")
            .attr("x1", pn.left + 12).attr("x2", pn.left + 40)
            .attr("y1", cy).attr("y2", cy)
            .attr("stroke", colors[m]).attr("stroke-opacity", 0.85).attr("stroke-width", 3);
          lg.append("text")
            .attr("x", pn.left + 49).attr("y", cy).attr("dy", "0.35em")
            .style("font-family", font).style("font-size", "12.5px")
            .text(legendLabels[m]);
        });
      }
    });

    // sub-figure captions
    const capPos = [
      { x: 82, y: 465, w: 260 },
      { x: 535, y: 465, w: 297 },
      { x: 75, y: 949, w: 295 },
      { x: 531, y: 949, w: 338 },
    ];
    svg.selectAll("text.cap")
      .data(captions)
      .join("text")
      .attr("class", "cap")
      .attr("x", (_, i) => capPos[i].x)
      .attr("y", (_, i) => capPos[i].y)
      .attr("textLength", (_, i) => capPos[i].w)
      .attr("lengthAdjust", "spacingAndGlyphs")
      .style("font-family", "Liberation Serif, serif")
      .style("font-size", "28px")
      .text((d) => d);
  }, []);

  return (
    <svg ref={ref} width={877} height={961} style={{ position: "absolute", left: 0, top: 0, background: "#fff" }} />
  );
}
